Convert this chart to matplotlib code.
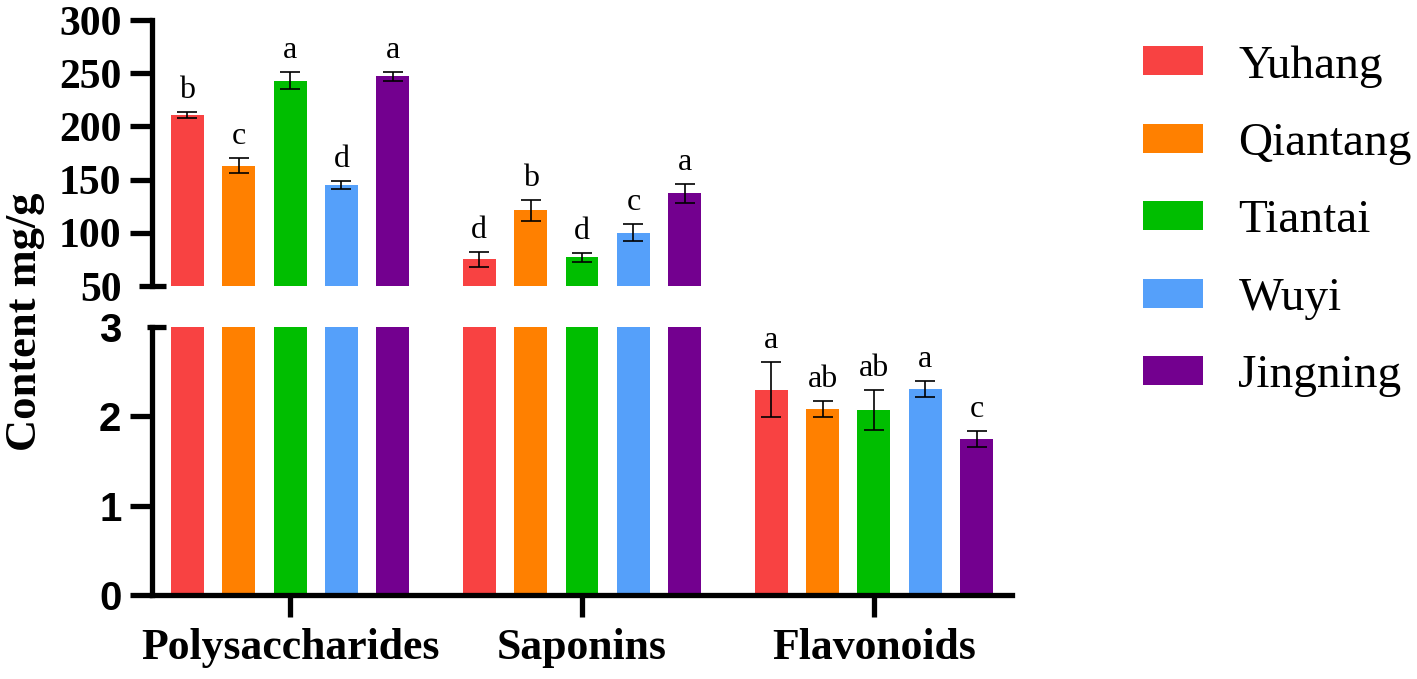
import numpy as np
import matplotlib.pyplot as plt
import matplotlib.patches as mpatches
import matplotlib.transforms as mtransforms

plt.rcParams['font.family'] = ['Liberation Serif', 'DejaVu Serif']

groups = ['Polysaccharides', 'Saponins', 'Flavonoids']
sites = ['Yuhang', 'Qiantang', 'Tiantai', 'Wuyi', 'Jingning']
colors = ['#F84242', '#FF8000', '#00BE00', '#55A0FA', '#73008F']

# mean content (mg/g) per site
polysaccharides = [211, 163, 243, 145, 247]
polysaccharides_err = [3, 7, 8, 4, 4]
saponins = [75, 121, 77, 100, 137]
saponins_err = [7, 10, 4, 8, 9]
flavonoids = [2.30, 2.08, 2.07, 2.31, 1.75]
flavonoids_err = [0.31, 0.09, 0.22, 0.09, 0.09]

letters_poly = ['b', 'c', 'a', 'd', 'a']
letters_sap = ['d', 'b', 'd', 'c', 'a']
letters_flav = ['a', 'ab', 'ab', 'a', 'c']

top_ticks = [50, 100, 150, 200, 250, 300]
bottom_ticks = [0, 1, 2, 3]

W, H = 1417, 679
fig = plt.figure(figsize=(W / 100, H / 100), dpi=100)
ax_top = fig.add_axes([152 / W, 1 - 286 / H, 860 / W, 266 / H])
ax_bot = fig.add_axes([152 / W, 1 - 595 / H, 860 / W, 268 / H])

lw = 3.8
step = 0.176
width = 0.113
x = np.arange(len(groups))

for i, site in enumerate(sites):
    vals = [polysaccharides[i], saponins[i], flavonoids[i]]
    errs = [polysaccharides_err[i], saponins_err[i], flavonoids_err[i]]
    xs = x + (i - 2) * step
    for ax in (ax_top, ax_bot):
        ax.bar(xs, vals, width, color=colors[i])
        ax.errorbar(xs, vals, yerr=errs, fmt='none', ecolor='black',
                    elinewidth=1.2, capsize=7, capthick=1.2)
    labs = [letters_poly[i], letters_sap[i], letters_flav[i]]
    for g in range(len(groups)):
        ax = ax_bot if g == 2 else ax_top
        ax.annotate(labs[g], (xs[g], vals[g] + errs[g]), xytext=(0, 5),
                    textcoords='offset points', ha='center', va='bottom',
                    fontsize=23)

for ax in (ax_top, ax_bot):
    ax.set_xlim(-0.473, 2.473)
    for s in ('top', 'right'):
        ax.spines[s].set_visible(False)
    ax.spines['left'].set_linewidth(lw)
    ax.spines['bottom'].set_linewidth(lw)
    ax.tick_params(axis='y', length=16, width=lw, pad=6)

ax_top.set_ylim(50, 300)
ax_top.set_yticks(top_ticks)
ax_top.spines['bottom'].set_visible(False)
ax_top.set_xticks([])
for lab in ax_top.get_yticklabels():
    lab.set_fontsize(30)
    lab.set_fontweight('bold')
ax_top.yaxis.get_major_ticks()[0].tick1line.set_visible(False)

ax_bot.set_ylim(0, 3)
ax_bot.set_yticks(bottom_ticks)
for lab in ax_bot.get_yticklabels():
    lab.set_fontsize(29)
    lab.set_fontweight('bold')
    lab.set_fontfamily('Liberation Sans')
ax_bot.yaxis.get_major_ticks()[-1].tick1line.set_visible(False)
ax_bot.set_xticks(x)
ax_bot.set_xticklabels(groups, fontsize=31.5, fontweight='bold')
ax_bot.tick_params(axis='x', length=16, width=lw, pad=8)

# break caps at the ends of the two segments
tr_top = mtransforms.blended_transform_factory(ax_top.transAxes, ax_top.transData)
ax_top.plot([-13 / 860, 14 / 860], [50, 50], color='black', lw=lw,
            transform=tr_top, clip_on=False, solid_capstyle='butt')
tr_bot = mtransforms.blended_transform_factory(ax_bot.transAxes, ax_bot.transData)
ax_bot.plot([-5 / 860, 14 / 860], [3, 3], color='black', lw=lw,
            transform=tr_bot, clip_on=False, solid_capstyle='butt')

fig.text(25 / W, 1 - 322 / H, 'Content mg/g', rotation=90, ha='center',
         va='center', fontsize=32, fontweight='bold')

handles = [mpatches.Patch(facecolor=c, label=s) for c, s in zip(colors, sites)]
fig.legend(handles=handles, loc='upper left', bbox_to_anchor=(1143 / W, 1 - 45 / H),
           frameon=False, fontsize=34, handlelength=1.27, handleheight=0.57,
           handletextpad=0.75, labelspacing=0.74, borderpad=0, borderaxespad=0)

fig.savefig('out.png', dpi=100)
